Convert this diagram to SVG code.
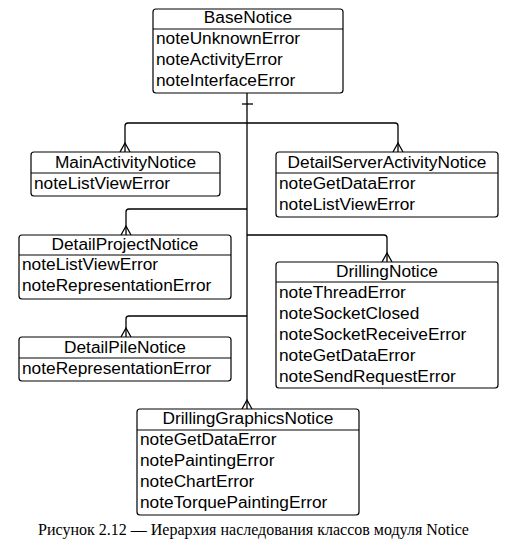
<svg xmlns="http://www.w3.org/2000/svg" width="506" height="541" viewBox="0 0 506 541">
<style>
.box{fill:#fff;stroke:#000;stroke-width:1.2}
.div{stroke:#000;stroke-width:1}
.t{font-family:"Liberation Sans",Arial,sans-serif;font-size:17.3px;fill:#000}
.h{text-anchor:middle}
.c{fill:none;stroke:#000;stroke-width:1.3}
.cap{font-family:"Liberation Serif","Times New Roman",serif;font-size:16px;fill:#000;text-anchor:middle}
</style>
<rect width="506" height="541" fill="#fff"/>
<g id="connectors">
<path class="c" d="M247,93 V409"/>
<path class="c" d="M242,104 H253"/>
<path class="c" d="M247,123 H128 Q125,123 125,126 V152"/>
<path class="c" d="M247,123 H395 Q398,123 398,126 V152"/>
<path class="c" d="M247,209 H129 Q126,209 126,212 V235"/>
<path class="c" d="M247,235 H384 Q387,235 387,238 V262"/>
<path class="c" d="M247,316 H129 Q126,316 126,319 V337"/>
<path class="c" d="M120,152 L125,143 L130,152"/>
<path class="c" d="M393,152 L398,143 L403,152"/>
<path class="c" d="M121,235 L126,226 L131,235"/>
<path class="c" d="M382,262 L387,253 L392,262"/>
<path class="c" d="M121,337 L126,328 L131,337"/>
<path class="c" d="M242,409 L247,400 L252,409"/>
</g>
<g id="BaseNotice">
<rect class="box" x="153" y="9" width="190" height="84" rx="3"/>
<line class="div" x1="153" y1="29" x2="343" y2="29"/>
<text class="t h" x="248" y="23">BaseNotice</text>
<text class="t" x="156" y="44">noteUnknownError</text>
<text class="t" x="156" y="65">noteActivityError</text>
<text class="t" x="156" y="86">noteInterfaceError</text>
</g>
<g id="MainActivityNotice">
<rect class="box" x="31" y="152" width="189" height="44" rx="3"/>
<line class="div" x1="31" y1="173" x2="220" y2="173"/>
<text class="t h" x="125.5" y="168">MainActivityNotice</text>
<text class="t" x="34" y="189">noteListViewError</text>
</g>
<g id="DetailServerActivityNotice">
<rect class="box" x="276" y="152" width="222" height="65" rx="3"/>
<line class="div" x1="276" y1="173" x2="498" y2="173"/>
<text class="t h" x="387" y="168">DetailServerActivityNotice</text>
<text class="t" x="279" y="189">noteGetDataError</text>
<text class="t" x="279" y="210">noteListViewError</text>
</g>
<g id="DetailProjectNotice">
<rect class="box" x="19" y="235" width="212" height="64" rx="3"/>
<line class="div" x1="19" y1="255" x2="231" y2="255"/>
<text class="t h" x="125" y="250">DetailProjectNotice</text>
<text class="t" x="22" y="270">noteListViewError</text>
<text class="t" x="22" y="291">noteRepresentationError</text>
</g>
<g id="DrillingNotice">
<rect class="box" x="276" y="262" width="222" height="126" rx="3"/>
<line class="div" x1="276" y1="282" x2="498" y2="282"/>
<text class="t h" x="387" y="277">DrillingNotice</text>
<text class="t" x="279" y="298">noteThreadError</text>
<text class="t" x="279" y="319">noteSocketClosed</text>
<text class="t" x="279" y="340">noteSocketReceiveError</text>
<text class="t" x="279" y="361">noteGetDataError</text>
<text class="t" x="279" y="382">noteSendRequestError</text>
</g>
<g id="DetailPileNotice">
<rect class="box" x="19" y="337" width="212" height="44" rx="3"/>
<line class="div" x1="19" y1="358" x2="231" y2="358"/>
<text class="t h" x="125" y="353">DetailPileNotice</text>
<text class="t" x="22" y="374">noteRepresentationError</text>
</g>
<g id="DrillingGraphicsNotice">
<rect class="box" x="137" y="409" width="222" height="106" rx="3"/>
<line class="div" x1="137" y1="430" x2="359" y2="430"/>
<text class="t h" x="248" y="424">DrillingGraphicsNotice</text>
<text class="t" x="140" y="445">noteGetDataError</text>
<text class="t" x="140" y="466">notePaintingError</text>
<text class="t" x="140" y="487">noteChartError</text>
<text class="t" x="140" y="508">noteTorquePaintingError</text>
</g>
<text class="cap" x="253.5" y="535">Рисунок 2.12 — Иерархия наследования классов модуля Notice</text>
</svg>
